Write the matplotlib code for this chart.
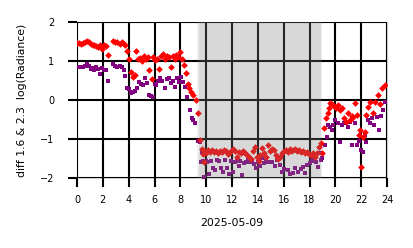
import numpy as np
import matplotlib
matplotlib.use('Agg')
import matplotlib.pyplot as plt

# red series (diamonds): hour of day, value
red_h = [0.0, 0.15, 0.3, 0.45, 0.6, 0.75, 0.9, 1.05, 1.2, 1.35, 1.5, 1.65, 1.8, 1.95, 2.1, 2.25, 2.4,
         2.8, 2.95, 3.1, 3.3, 3.45, 3.6, 3.75, 3.9, 4.05, 4.2, 4.35, 4.5, 4.6, 4.75, 4.9, 5.05, 5.2,
         5.35, 5.5, 5.6, 5.8, 5.9, 6.05, 6.2, 6.35, 6.5, 6.65, 6.8, 6.95, 7.1, 7.25, 7.4, 7.55, 7.7,
         7.85, 8.0, 8.15, 8.3, 8.45, 8.6, 8.7, 8.85, 9.0, 9.2, 9.4, 9.5, 9.65, 9.75, 9.8, 9.9, 10.0,
         10.15, 10.3, 10.45, 10.6, 10.75, 10.9, 11.05, 11.2, 11.35, 11.5, 11.65, 11.8, 11.95, 12.1,
         12.25, 12.4, 12.55, 12.7, 12.85, 13.0, 13.15, 13.3, 13.45, 13.6, 13.75, 13.9, 14.05, 14.2,
         14.35, 14.5, 14.65, 14.8, 14.95, 15.1, 15.25, 15.4, 15.55, 15.7, 15.85, 16.0, 16.15, 16.3,
         16.45, 16.6, 16.75, 16.9, 17.05, 17.2, 17.35, 17.5, 17.65, 17.8, 17.95, 18.1, 18.25, 18.4,
         18.55, 18.7, 18.85, 19.0, 19.15, 19.3, 19.4, 19.5, 19.6, 19.75, 19.9, 20.05, 20.2, 20.35,
         20.5, 20.65, 20.8, 20.95, 21.1, 21.25, 21.4, 21.5, 21.7, 21.8, 21.9, 22.0, 22.15, 22.3,
         22.4, 22.55, 22.7, 22.9, 23.1, 23.3, 23.45, 23.6, 23.8]
red_v = [1.46, 1.47, 1.45, 1.46, 1.48, 1.52, 1.48, 1.43, 1.40, 1.42, 1.38, 1.36, 1.40, 1.32, 1.40, 1.38, 1.16,
         1.52, 1.48, 1.50, 1.45, 1.50, 1.44, 1.40, 1.25, 1.05, 0.72, 0.58, 0.65, 1.25, 1.05, 1.08, 1.00, 1.12,
         1.05, 1.10, 0.77, 0.55, 1.10, 1.02, 1.05, 0.80, 1.12, 1.18, 1.05, 1.12, 1.10, 0.85, 1.12, 1.05, 1.15,
         1.10, 1.23, 1.05, 0.90, 0.69, 0.40, 0.31, 0.20, 0.13, 0.00, -0.33, -1.03, -1.25, -1.38, -1.60, -1.30, -1.35,
         -1.28, -1.32, -1.28, -1.33, -1.30, -1.35, -1.30, -1.32, -1.28, -1.30, -1.38, -1.35, -1.30, -1.25,
         -1.30, -1.45, -1.32, -1.35, -1.30, -1.35, -1.40, -1.45, -1.50, -1.30, -1.20, -1.45, -1.55, -1.40,
         -1.22, -1.35, -1.45, -1.15, -1.30, -1.25, -1.28, -1.40, -1.50, -1.45, -1.35, -1.30, -1.28, -1.32,
         -1.25, -1.30, -1.28, -1.25, -1.30, -1.28, -1.32, -1.30, -1.35, -1.32, -1.38, -1.40, -1.35, -1.45,
         -1.35, -1.20, -1.10, -1.36, -0.72, -0.45, -0.33, -0.20, -0.08, -0.10, -0.15, -0.20, -0.13, -0.25,
         -0.20, -0.45, -0.55, -0.33, -0.50, -0.40, -0.43, -0.08, -0.38, -0.90, -0.77, -1.72, -0.95, -0.82,
         -0.38, -0.18, -0.05, -0.33, -0.05, 0.13, -0.10, 0.31, 0.38]

# purple series (squares)
pur_h = [0.0, 0.15, 0.3, 0.45, 0.6, 0.75, 0.9, 1.05, 1.2, 1.35, 1.5, 1.65, 1.8, 1.95, 2.1, 2.25, 2.4,
         2.8, 2.95, 3.1, 3.3, 3.45, 3.6, 3.75, 3.9, 4.05, 4.2, 4.35, 4.5, 4.65, 4.8, 4.95, 5.1, 5.25,
         5.4, 5.55, 5.7, 5.85, 6.0, 6.15, 6.3, 6.45, 6.6, 6.8, 6.95, 7.1, 7.25, 7.45, 7.6, 7.75, 7.9,
         8.05, 8.2, 8.35, 8.5, 8.75, 8.9, 9.0, 9.1, 9.35, 9.5, 9.6, 9.65, 9.75, 9.8, 9.95, 10.1, 10.25,
         10.4, 10.55, 10.7, 10.85, 11.0, 11.15, 11.3, 11.45, 11.6, 11.75, 11.9, 12.05, 12.2, 12.35,
         12.5, 12.65, 12.8, 12.95, 13.1, 13.25, 13.4, 13.55, 13.7, 13.85, 14.0, 14.15, 14.3, 14.45,
         14.6, 14.75, 14.9, 15.1, 15.3, 15.5, 15.7, 15.9, 16.05, 16.3, 16.5, 16.7, 16.9, 17.1, 17.3,
         17.5, 17.65, 17.8, 18.0, 18.15, 18.3, 18.5, 18.65, 18.8, 18.85, 19.0, 19.2, 19.35, 19.45,
         19.6, 19.7, 19.85, 20.0, 20.2, 20.35, 20.5, 20.7, 20.85, 21.0, 21.15, 21.3, 21.5, 21.7,
         21.85, 22.0, 22.1, 22.3, 22.4, 22.55, 22.7, 22.8, 23.0, 23.2, 23.4, 23.55, 23.7, 23.8]
pur_v = [0.85, 0.85, 0.86, 0.85, 0.88, 0.92, 0.88, 0.80, 0.82, 0.78, 0.85, 0.80, 0.68, 0.82, 0.76, 0.77, 0.50,
         0.92, 0.88, 0.86, 0.88, 0.85, 0.77, 0.62, 0.30, 0.28, 0.18, 0.20, 0.22, 0.30, 0.46, 0.40, 0.38, 0.56,
         0.45, 0.13, 0.10, 0.08, 0.40, 0.38, 0.50, 0.56, 0.50, 0.30, 0.55, 0.56, 0.45, 0.50, 0.33, 0.56, 0.46,
         0.59, 0.46, 0.33, 0.08, -0.26, -0.45, -0.51, -0.60, -1.05, -1.07, -1.60, -1.33, -1.55, -1.98, -1.55, -1.60, -1.90,
         -1.55, -1.75, -1.80, -1.53, -1.55, -1.74, -1.85, -1.54, -1.74, -1.90, -1.55, -1.85, -1.60, -1.55,
         -1.70, -1.55, -1.92, -1.62, -1.58, -1.54, -1.58, -1.54, -1.65, -1.74, -1.58, -1.68, -1.49, -1.62,
         -1.55, -1.58, -1.60, -1.58, -1.70, -1.54, -1.67, -1.85, -1.78, -1.80, -1.90, -1.88, -1.74, -1.85, -1.78,
         -1.72, -1.88, -1.67, -1.62, -1.55, -1.49, -1.60, -1.72, -1.36, -1.54, -1.49, -1.15, -0.95, -0.64,
         -0.70, -0.77, -0.64, -0.51, -0.60, -1.07, -0.64, -0.60, -0.58, -0.68, -0.55, -1.15, -0.60, -1.15,
         -1.05, -1.28, -1.33, -0.90, -1.07, -0.50, -0.60, -0.46, -0.64, -0.43, -0.77, -0.40, -0.26, -0.05]

# shaded period (hours)
shade_start = 9.45
shade_end = 18.85

fig = plt.figure(figsize=(4.14, 2.48), dpi=100)
ax = fig.add_axes([0.186, 0.282, 0.749, 0.629])

ax.plot(pur_h, pur_v, 's', color='purple', markersize=2.8, markeredgewidth=0, zorder=3)
ax.plot(red_h, red_v, 'D', color='red', markersize=3.4, markeredgewidth=0, zorder=3)

# shading drawn over the points
ax.axvspan(shade_start - 0.2, shade_end + 0.15, color='gray', alpha=0.12, lw=0, zorder=4)
ax.axvspan(shade_start, shade_end, color='gray', alpha=0.2, lw=0, zorder=4)

ax.set_xlim(0, 24)
ax.set_ylim(-2, 2)
ax.set_xticks(np.arange(0, 25, 2))
ax.set_yticks([-2, -1, 0, 1, 2])
ax.grid(True, color='black', linewidth=1.5, zorder=5)
ax.set_axisbelow(False)
ax.tick_params(labelsize=7, width=1.5, length=6.5, color='black')
ax.tick_params(axis='x', pad=6)
ax.tick_params(axis='y', pad=10)
for s in ax.spines.values():
    s.set_color('#cccccc')
    s.set_linewidth(0.8)

ax.set_xlabel('2025-05-09', fontsize=7.8, labelpad=9)
ax.set_ylabel('diff 1.6 & 2.3  log(Radiance)', fontsize=7.8, labelpad=9)

fig.savefig('out.png', dpi=100)
